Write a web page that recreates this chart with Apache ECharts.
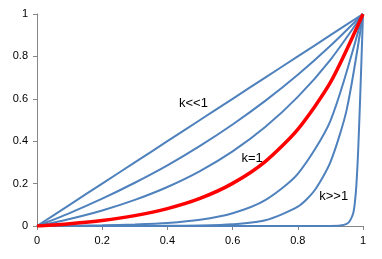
<!DOCTYPE html>
<html><head><meta charset="utf-8">
<script src="https://cdn.jsdelivr.net/npm/echarts@6/dist/echarts.min.js"></script>
<style>html,body{margin:0;padding:0;background:#fff}#c{width:382px;height:259px}</style>
</head><body><div id="c"></div>
<script>
var xTicks = [0, 0.2, 0.4, 0.6, 0.8, 1];
var yTicks = [0, 0.2, 0.4, 0.6, 0.8, 1];
var xs = [0, 0.1, 0.2, 0.3, 0.4, 0.5, 0.6, 0.7, 0.8, 0.9, 1];
var curveA = [0, 0.1, 0.2, 0.3, 0.4, 0.5, 0.6, 0.7, 0.8, 0.9, 1];
var curveB = [0, 0.061, 0.129, 0.204, 0.286, 0.378, 0.479, 0.590, 0.713, 0.850, 1];
var curveC = [0, 0.033, 0.073, 0.123, 0.184, 0.259, 0.352, 0.467, 0.609, 0.784, 1];
var curveRed = [0, 0.011, 0.026, 0.049, 0.082, 0.130, 0.201, 0.304, 0.456, 0.677, 1];
var curveE = [0, 0.001, 0.003, 0.007, 0.014, 0.029, 0.060, 0.122, 0.246, 0.496, 1];
var xsF = [0, 0.1, 0.2, 0.3, 0.4, 0.5, 0.6, 0.7, 0.8, 0.85, 0.9, 0.95, 1];
var curveF = [0, 0, 0, 0, 0.001, 0.002, 0.008, 0.027, 0.091, 0.165, 0.301, 0.549, 1];
var xsG = [0, 0.5, 0.8, 0.9, 0.93, 0.95, 0.96, 0.97, 0.975, 0.98, 0.985, 0.99, 0.995, 1];
var curveG = [0, 0, 0, 0.0003, 0.002, 0.01, 0.025, 0.06, 0.11, 0.20, 0.35, 0.55, 0.77, 1];
var labels = [
  {text: 'k<<1', x: 0.48, y: 0.58},
  {text: 'k=1', x: 0.66, y: 0.32},
  {text: 'k>>1', x: 0.91, y: 0.14}
];

function pairs(x, y) { return x.map(function (v, i) { return [v, y[i]]; }); }
var blue = '#4F81BD';
function line(x, y, color, w) {
  return { type: 'line', data: pairs(x, y), showSymbol: false, smooth: 0.25,
    lineStyle: { color: color, width: w }, itemStyle: { color: color }, silent: true, animation: false, z: color === blue ? 2 : 3 };
}
var chart = echarts.init(document.getElementById('c'));
var axisCommon = {
  type: 'value', min: 0, max: 1, interval: 0.2,
  axisLine: { show: true, lineStyle: { color: '#868686', width: 1 } },
  axisTick: { show: true, length: 4, lineStyle: { color: '#868686' } },
  splitLine: { show: false },
  axisLabel: { color: '#000', fontFamily: 'Liberation Sans', fontSize: 11,
    formatter: function (v) { return String(Math.round(v * 10) / 10); } }
};
chart.setOption({
  animation: false,
  grid: { left: 37, right: 19, top: 14, bottom: 33, containLabel: false },
  xAxis: Object.assign({}, axisCommon, { axisLabel: Object.assign({}, axisCommon.axisLabel, { margin: 9 }) }),
  yAxis: Object.assign({}, axisCommon, { axisLabel: Object.assign({}, axisCommon.axisLabel, { margin: 9 }) }),
  series: [
    line(xs, curveA, blue, 2),
    line(xs, curveB, blue, 2),
    line(xs, curveC, blue, 2),
    line(xs, curveE, blue, 2),
    line(xsF, curveF, blue, 2),
    line(xsG, curveG, blue, 2),
    line(xs, curveRed, '#FF0000', 3.5)
  ]
});
var g = labels.map(function (l) {
  var p = chart.convertToPixel({ gridIndex: 0 }, [l.x, l.y]);
  return { type: 'text', x: p[0], y: p[1], z: 10,
    style: { text: l.text, fill: '#000', font: '13px "Liberation Sans"', align: 'center', verticalAlign: 'middle' } };
});
chart.setOption({ graphic: g });
</script></body></html>
